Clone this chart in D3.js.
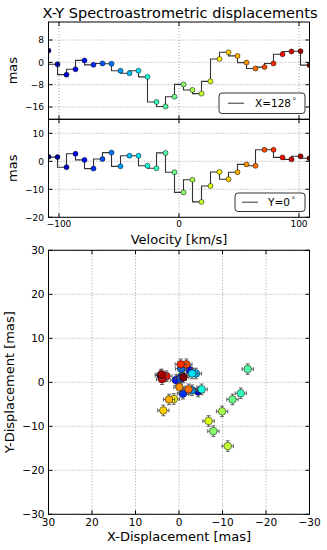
<!DOCTYPE html>
<html><head><meta charset="utf-8">
<script src="https://cdn.jsdelivr.net/npm/d3@7"></script>
<style>body{margin:0;background:#fff}svg{display:block}text{font-family:"DejaVu Sans",sans-serif;fill:#000}</style>
</head><body><svg id="c" width="327" height="550"></svg>
<script>
// Velocity channels [km/s]
const velocity = [-108.75,-101.25,-93.75,-86.25,-78.75,-71.25,-63.75,-56.25,-48.75,-41.25,-33.75,-26.25,-18.75,-11.25,-3.75,3.75,11.25,18.75,26.25,33.75,41.25,48.75,56.25,63.75,71.25,78.75,86.25,93.75,101.25,108.75];
// X displacement (PA=128 deg) [mas]
const xDisp = [4.2,-0.7,-4.4,-2.5,0.7,-0.9,-0.4,-0.5,-3.0,-3.9,-3.0,-5.2,-14.2,-15.8,-12.3,-7.9,-9.9,-11.2,-6.8,1.2,3.6,2.3,-0.1,-2.2,-1.7,-0.4,2.9,3.9,4.0,-1.0];
// Y displacement (PA=0 deg) [mas]
const yDisp = [1.6,1.5,-2.1,2.7,0.5,-2.6,0.8,3.1,-1.8,2.0,2.0,-1.6,-2.5,3.0,-3.9,-11.1,-6.6,-14.5,-8.8,-3.8,-6.4,-3.9,-1.1,-1.6,4.1,4.1,1.4,0.7,1.8,1.1];
const errX = 1.3, errY = 1.2;
const velTicks = [-100,0,100];
const xTicksTop = [-16,-8,0,8];
const yTicksMid = [-20,-10,0,10];
const dispTicks = [-30,-20,-10,0,10,20,30];

function jet(t){
  function seg(pts){for(let i=1;i<pts.length;i++){if(t<=pts[i][0]){const a=pts[i-1],b=pts[i];return a[1]+(b[1]-a[1])*(t-a[0])/(b[0]-a[0]);}}return pts[pts.length-1][1];}
  const r=seg([[0,0],[0.35,0],[0.66,1],[0.89,1],[1,0.5]]);
  const g=seg([[0,0],[0.125,0],[0.375,1],[0.64,1],[0.91,0],[1,0]]);
  const b=seg([[0,0.5],[0.11,1],[0.34,1],[0.65,0],[1,0]]);
  return d3.rgb(r*255,g*255,b*255).toString();
}
const n = velocity.length;
const color = i => jet(i/(n-1));
const svg = d3.select("#c");
const L=48.5, R=309.5;
const fmt = d => (d<0?"\u2212"+Math.abs(d):""+d);

const xv = d3.scaleLinear().domain([-108.75,108.75]).range([L,R]);
const defs = svg.append("defs");

function panel(id,y0,y1,dom,ticks,vals,showX,legendTxt,lg){
  const ys = d3.scaleLinear().domain(dom).range([y1,y0]);
  const g = svg.append("g");
  defs.append("clipPath").attr("id",id).append("rect").attr("x",L).attr("y",y0).attr("width",R-L).attr("height",y1-y0);
  // grid
  g.selectAll(".gx").data(velTicks).join("line").attr("x1",d=>xv(d)).attr("x2",d=>xv(d)).attr("y1",y0).attr("y2",y1)
    .attr("stroke","#777").attr("stroke-width",0.7).attr("stroke-dasharray","1,2");
  g.selectAll(".gy").data(ticks).join("line").attr("x1",L).attr("x2",R).attr("y1",d=>ys(d)).attr("y2",d=>ys(d))
    .attr("stroke","#777").attr("stroke-width",0.7).attr("stroke-dasharray","1,2");
  // ticks
  const tk=4;
  ticks.forEach(d=>{const y=ys(d);
    g.append("line").attr("x1",L).attr("x2",L+tk).attr("y1",y).attr("y2",y).attr("stroke","#000");
    g.append("line").attr("x1",R).attr("x2",R-tk).attr("y1",y).attr("y2",y).attr("stroke","#000");
    g.append("text").attr("x",44).attr("y",y+3.3).attr("text-anchor","end").attr("font-size",9).text(fmt(d));
  });
  velTicks.forEach(d=>{const x=xv(d);
    g.append("line").attr("x1",x).attr("x2",x).attr("y1",y1).attr("y2",y1-tk).attr("stroke","#000");
    g.append("line").attr("x1",x).attr("x2",x).attr("y1",y0).attr("y2",y0+tk).attr("stroke","#000");
    if(showX) g.append("text").attr("x",x).attr("y",y1+10).attr("text-anchor","middle").attr("font-size",9).text(fmt(d));
  });
  // step line
  const gc = g.append("g").attr("clip-path",`url(#${id})`);
  const line = d3.line().x((d,i)=>xv(velocity[i])).y(d=>ys(d)).curve(d3.curveStepBefore);
  gc.append("path").attr("d",line(vals)).attr("fill","none").attr("stroke","#333").attr("stroke-width",1.1);
  gc.selectAll(".pt").data(vals).join("circle").attr("cx",(d,i)=>xv(velocity[i])).attr("cy",d=>ys(d)).attr("r",2.5)
    .attr("fill",(d,i)=>color(i)).attr("stroke","#000").attr("stroke-width",0.5);
  // frame
  g.append("rect").attr("x",L).attr("y",y0).attr("width",R-L).attr("height",y1-y0).attr("fill","none").attr("stroke","#000").attr("stroke-width",1);
  // ylabel
  g.append("text").attr("transform",`translate(17,${(y0+y1)/2}) rotate(-90)`).attr("text-anchor","middle").attr("font-size",13).text("mas");
  // legend
  g.append("rect").attr("x",lg.x).attr("y",lg.y).attr("width",lg.w).attr("height",lg.h).attr("rx",3)
    .attr("fill","#fff").attr("stroke","#000").attr("stroke-width",0.8);
  g.append("line").attr("x1",lg.lx).attr("x2",lg.lx+16).attr("y1",lg.y+lg.h/2).attr("y2",lg.y+lg.h/2).attr("stroke","#555").attr("stroke-width",1.2);
  const t=g.append("text").attr("x",lg.tx).attr("y",lg.y+lg.h/2+4).attr("font-size",10.5);
  t.append("tspan").text(legendTxt);
  t.append("tspan").attr("dx",1.5).attr("dy",-4).attr("font-size",7.5).text("\u00b0");
}

svg.append("text").attr("x",180).attr("y",17.5).attr("text-anchor","middle").attr("font-size",14.5).text("X-Y Spectroastrometric displacements");

panel("clipA",22,119.3,[-20.4,14.45],xTicksTop,xDisp,false,"X=128",{x:219,y:93,w:86,h:20.5,lx:228,tx:255});
panel("clipB",119.3,217.3,[-20,15],yTicksMid,yDisp,true,"Y=0",{x:235,y:193,w:70,h:18.5,lx:242,tx:268});

svg.append("text").attr("x",179).attr("y",243.5).attr("text-anchor","middle").attr("font-size",13).text("Velocity [km/s]");

// scatter
const T=250.3, B=514.3;
const sx = d3.scaleLinear().domain([30,-30]).range([L,R]);
const sy = d3.scaleLinear().domain([-30,30]).range([B,T]);
const g3 = svg.append("g");
dispTicks.forEach(d=>{
  g3.append("line").attr("x1",sx(d)).attr("x2",sx(d)).attr("y1",T).attr("y2",B).attr("stroke","#777").attr("stroke-width",0.7).attr("stroke-dasharray","1,2");
  g3.append("line").attr("x1",L).attr("x2",R).attr("y1",sy(d)).attr("y2",sy(d)).attr("stroke","#777").attr("stroke-width",0.7).attr("stroke-dasharray","1,2");
});
dispTicks.forEach(d=>{
  const x=sx(d), y=sy(d);
  g3.append("line").attr("x1",x).attr("x2",x).attr("y1",B).attr("y2",B-4).attr("stroke","#000");
  g3.append("line").attr("x1",x).attr("x2",x).attr("y1",T).attr("y2",T+4).attr("stroke","#000");
  g3.append("line").attr("x1",L).attr("x2",L+4).attr("y1",y).attr("y2",y).attr("stroke","#000");
  g3.append("line").attr("x1",R).attr("x2",R-4).attr("y1",y).attr("y2",y).attr("stroke","#000");
  g3.append("text").attr("x",x).attr("y",B+11.5).attr("text-anchor","middle").attr("font-size",10.5).text(fmt(d));
  g3.append("text").attr("x",44.5).attr("y",y+3.8).attr("text-anchor","end").attr("font-size",10.5).text(fmt(d));
});
xDisp.forEach((xd,i)=>{
  const yd=yDisp[i], cx=sx(xd), cy=sy(yd);
  const e=g3.append("g").attr("stroke","#555").attr("stroke-width",0.9);
  e.append("line").attr("x1",sx(xd-errX)).attr("x2",sx(xd+errX)).attr("y1",cy).attr("y2",cy);
  e.append("line").attr("x1",cx).attr("x2",cx).attr("y1",sy(yd-errY)).attr("y2",sy(yd+errY));
  [xd-errX,xd+errX].forEach(v=>e.append("line").attr("x1",sx(v)).attr("x2",sx(v)).attr("y1",cy-2).attr("y2",cy+2));
  [yd-errY,yd+errY].forEach(v=>e.append("line").attr("y1",sy(v)).attr("y2",sy(v)).attr("x1",cx-2).attr("x2",cx+2));
  g3.append("circle").attr("cx",cx).attr("cy",cy).attr("r",3.8).attr("fill",color(i)).attr("stroke","#000").attr("stroke-width",0.5);
});
g3.append("rect").attr("x",L).attr("y",T).attr("width",R-L).attr("height",B-T).attr("fill","none").attr("stroke","#000").attr("stroke-width",1);
svg.append("text").attr("x",179).attr("y",541).attr("text-anchor","middle").attr("font-size",13).text("X-Displacement [mas]");
svg.append("text").attr("transform",`translate(14,${(T+B)/2}) rotate(-90)`).attr("text-anchor","middle").attr("font-size",13).text("Y-Displacement [mas]");
</script></body></html>
